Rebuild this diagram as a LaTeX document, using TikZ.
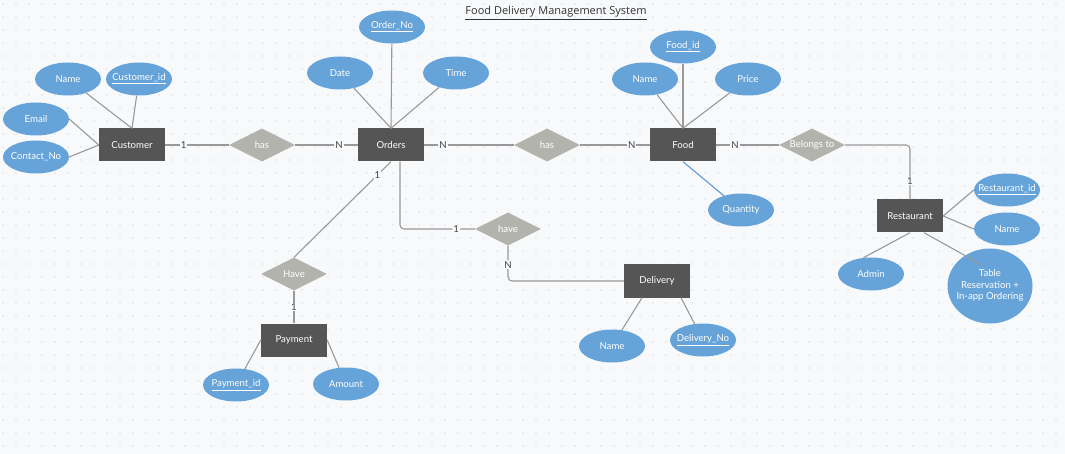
\documentclass[tikz,border=0pt]{standalone}
\usepackage{fontspec}
\setmainfont{Lato}
\newfontfamily\titlefont{Open Sans}
\usetikzlibrary{shapes.geometric,calc}
\definecolor{bgc}{HTML}{F8F9FB}
\definecolor{dotc}{HTML}{DDE0E5}
\definecolor{entc}{HTML}{555555}
\definecolor{relc}{HTML}{B3B3AE}
\definecolor{attc}{HTML}{65A3D9}
\definecolor{linec}{HTML}{999999}
\definecolor{bluel}{HTML}{5B9BD5}
\definecolor{labc}{HTML}{444444}
\begin{document}
\begin{tikzpicture}[x=1pt,y=-1pt,
  every node/.style={font=\fontsize{9.6}{11.5}\selectfont},
  entity/.style={rectangle,fill=entc,text=white,minimum width=66pt,minimum height=33pt,inner sep=0pt},
  rel/.style={diamond,fill=relc,text=white,minimum width=66pt,minimum height=33pt,inner sep=0pt,aspect=2},
  attr/.style={ellipse,fill=attc,text=white,minimum width=66pt,minimum height=33pt,inner sep=0pt},
  conn/.style={draw=linec,line width=1.1pt},
  card/.style={fill=bgc,text=labc,inner sep=1pt}]
\useasboundingbox (0,0) rectangle (1065,454);
\fill[bgc] (0,0) rectangle (1065,454);
\foreach \i in {0,...,81}{\foreach \j in {0,...,34}{\fill[dotc] ({3+13*\i},{4+13*\j}) circle (0.9);}}
% title
\node[text=black!80,font=\titlefont\fontsize{11}{13}\selectfont] (title) at (556,13) {\underline{Food Delivery Management System}};
% entities
\node[entity] (customer) at (132,145) {Customer};
\node[entity] (orders) at (391,145) {Orders};
\node[entity] (food) at (683,145) {Food};
\node[entity] (restaurant) at (910,216) {Restaurant};
\node[entity] (payment) at (294,340) {Payment};
\node[entity] (delivery) at (657,281) {Delivery};
% relationships
\node[rel] (has1) at (262,145) {\makebox[0pt]{has}};
\node[rel] (has2) at (547,145) {\makebox[0pt]{has}};
\node[rel] (belongs) at (812,145) {\makebox[0pt]{Belongs to}};
\node[rel] (have) at (508,229) {\makebox[0pt]{have}};
\node[rel] (Have) at (294,274) {\makebox[0pt]{Have}};
% attributes
\node[attr] (cname) at (68,79) {\makebox[0pt]{Name}};
\node[attr] (cid) at (139,79) {\makebox[0pt]{\underline{Customer\_id}}};
\node[attr] (email) at (36,119) {\makebox[0pt]{Email}};
\node[attr] (contact) at (36,157) {\makebox[0pt]{Contact\_No}};
\node[attr] (orderno) at (392,27) {\makebox[0pt]{\underline{Order\_No}}};
\node[attr] (date) at (340,73) {\makebox[0pt]{Date}};
\node[attr] (time) at (456,73) {\makebox[0pt]{Time}};
\node[attr] (foodid) at (683,47) {\makebox[0pt]{\underline{Food\_id}}};
\node[attr] (fname) at (645,79) {\makebox[0pt]{Name}};
\node[attr] (price) at (748,79) {\makebox[0pt]{Price}};
\node[attr] (quantity) at (741,210) {\makebox[0pt]{Quantity}};
\node[attr] (rid) at (1007,190) {\makebox[0pt]{\underline{Restaurant\_id}}};
\node[attr] (rname) at (1007,229) {\makebox[0pt]{Name}};
\node[attr] (admin) at (871,274) {\makebox[0pt]{Admin}};
\node[attr,minimum width=85pt,minimum height=75pt] (table) at (990,286) {\makebox[0pt]{\begin{tabular}{@{}c@{}}Table\\Reservation +\\In-app Ordering\end{tabular}}};
\node[attr] (payid) at (236,385) {\makebox[0pt]{\underline{Payment\_id}}};
\node[attr] (amount) at (346,384) {\makebox[0pt]{Amount}};
\node[attr] (dname) at (612,346) {\makebox[0pt]{Name}};
\node[attr] (dno) at (703,340) {\makebox[0pt]{\underline{Delivery\_No}}};
\coordinate (tablein) at (982,265);
% attribute links
\draw[conn] (cname) -- (customer.north);
\draw[conn] (cid) -- (customer.north);
\draw[conn] (email.east) -- (customer.west);
\draw[conn] (contact.east) -- (customer.west);
\draw[conn] (orderno) -- (orders.north);
\draw[conn] (date) -- (orders.north);
\draw[conn] (time) -- (orders.north);
\draw[conn] (fname) -- (food.north);
\draw[conn] (foodid) -- (food.north);
\draw[conn] (price) -- (food.north);
\draw[draw=bluel,line width=1.1pt] (food.south) -- (quantity);
\draw[conn] (restaurant.east) -- (rid.west);
\draw[conn] (restaurant.east) -- (rname.west);
\draw[conn] (restaurant.south) -- (admin.115);
\draw[conn] ([xshift=14pt]restaurant.south) -- (tablein);
\draw[conn] (payment.west) -- (payid);
\draw[conn] (payment.east) -- (amount);
\draw[conn] ([xshift=-15pt]delivery.south) -- (dname);
\draw[conn] ([xshift=24pt]delivery.south) -- (dno);
% relationship links
\draw[conn] (customer.east) -- node[card,pos=0.29]{1} (has1.west);
\draw[conn] (has1.east) -- node[card,pos=0.70]{N} (orders.west);
\draw[conn] (orders.east) -- node[card,pos=0.21]{N} (has2.west);
\draw[conn] (has2.east) -- node[card,pos=0.74]{N} (food.west);
\draw[conn] (food.east) -- node[card,pos=0.30]{N} (belongs.west);
\draw[conn,rounded corners=4pt] (belongs.east) -| node[card,pos=0.83]{1} (restaurant.north);
\draw[conn] (orders.south) -- node[card,pos=0.14]{1} (Have.north);
\draw[conn,rounded corners=4pt] ([xshift=9pt]orders.south) |- node[card,pos=0.875]{1} (have.west);
\draw[conn,rounded corners=4pt] (have.south) |- node[card,pos=0.27]{N} (delivery.west);
\draw[conn] (Have.south) -- node[card,pos=0.5]{1} (payment.north);
\end{tikzpicture}
\end{document}
